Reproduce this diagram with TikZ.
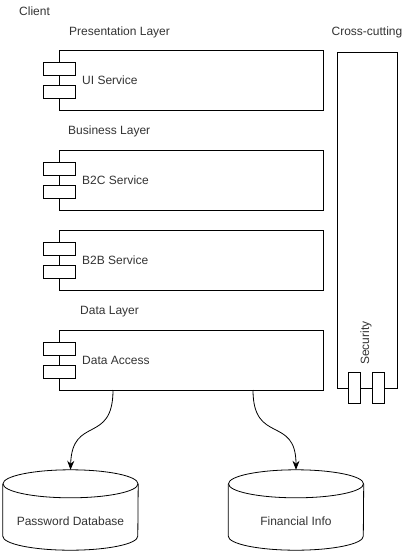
\documentclass[tikz,border=0pt]{standalone}
\usepackage{fontspec}
\setmainfont{Liberation Sans}
\usetikzlibrary{arrows.meta}
\begin{document}
\begin{tikzpicture}[x=1pt,y=1pt,
  every node/.style={font=\fontsize{12}{14}\selectfont, text=black!80},
  lbl/.style={anchor=west, inner sep=0pt},
  comp/.style={draw, line width=0.8pt, minimum width=264, minimum height=60, inner sep=0pt},
  tab/.style={draw, fill=white, line width=0.8pt, minimum width=32, minimum height=13, inner sep=0pt},
  vtab/.style={draw, fill=white, line width=0.8pt, minimum width=12, minimum height=31, inner sep=0pt},
  db/.style={minimum width=135, minimum height=80, inner sep=0pt},
  conn/.style={line width=0.8pt, -{Stealth[length=9pt,width=7pt]}}
]
\useasboundingbox (0,0) rectangle (417,-551);
% labels
\node[lbl] (client) at (19,-11) {Client};
\node[lbl] (pres) at (69,-32) {Presentation Layer};
\node[lbl] (bus) at (68,-131) {Business Layer};
\node[lbl] (data) at (80,-312) {Data Layer};
\node (cross) at (367,-32) {Cross-cutting};
% component boxes
\foreach \n/\y/\t in {ui/80/UI Service, b2c/180/B2C Service, b2b/260/B2B Service, da/360/Data Access}{
  \node[comp] (\n) at (191,-\y) {};
  \node[tab] (\n t1) at (59,-\y+11.5) {};
  \node[tab] (\n t2) at (59,-\y-11.5) {};
  \node[lbl] (\n l) at (82,-\y) {\t};
}
% cross-cutting
\node[draw, line width=0.8pt, minimum width=60, minimum height=336, inner sep=0pt] (cc) at (367,-220) {};
\node[rotate=90, inner sep=0pt] (sec) at (366,-343) {Security};
\node[vtab] (st1) at (354,-387.5) {};
\node[vtab] (st2) at (378,-387.5) {};
% databases
\node[db] (pw) at (70.5,-510) {};
\node[db] (fi) at (296,-510) {};
\foreach \d in {pw,fi}{
  \draw[line width=0.8pt] ([yshift=-14]\d.north west) -- ([yshift=14]\d.south west)
    arc[start angle=180, end angle=360, x radius=67.5, y radius=14]
    -- ([yshift=-14]\d.north east);
  \draw[line width=0.8pt] ([yshift=-14]\d.north) ellipse[x radius=67.5, y radius=14];
}
\node (pwl) at (70.5,-521) {Password Database};
\node (fil) at (296,-521) {Financial Info};
% connectors
\coordinate (da1) at (113,-390);
\coordinate (da2) at (253,-390);
\draw[conn] (da1) .. controls (113,-445) and (72,-415) .. (pw.north);
\draw[conn] (da2) .. controls (253,-445) and (296,-415) .. (fi.north);
\end{tikzpicture}
\end{document}
